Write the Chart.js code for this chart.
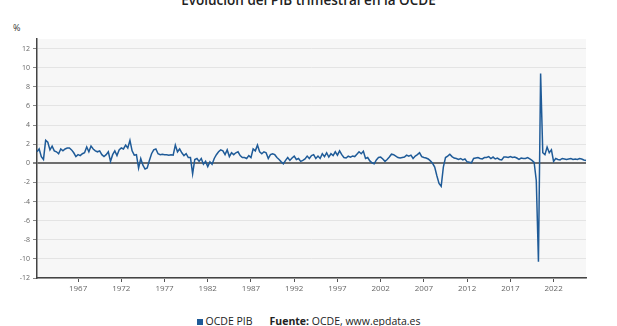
<!DOCTYPE html>
<html>
<head>
<meta charset="utf-8">
<script src="https://cdn.jsdelivr.net/npm/chart.js@4.4.1/dist/chart.umd.min.js"></script>
<style>
  body { margin: 0; background: #fff; width: 617px; height: 326px; overflow: hidden; position: relative; font-family: "Open Sans", sans-serif; }
  #title { position: absolute; left: 0; width: 617px; top: -9px; text-align: center; font-size: 13.5px; font-weight: 600; color: #222; }
  #unit { position: absolute; left: 13px; top: 21px; font-size: 9px; color: #333; }
  #wrap { position: absolute; left: 0; top: 0; width: 617px; height: 300px; }
  #foot { position: absolute; left: 0; width: 617px; top: 314px; text-align: center; font-size: 10.5px; color: #222; white-space: nowrap; }
  #foot .sq { display: inline-block; width: 6px; height: 6px; background: #1f5b98; margin-right: 3px; }
  #foot b { margin-left: 17px; }
</style>
</head>
<body>
<div id="title">Evolución del PIB trimestral en la OCDE</div>
<div id="unit">%</div>
<div id="wrap"><canvas id="chart" width="617" height="300"></canvas></div>
<div id="foot"><span class="sq"></span>OCDE PIB<b>Fuente:</b> OCDE, www.epdata.es</div>
<script>
// serie trimestral, comienza en 1962 T2
const startYear = 1962;
const startQuarter = 2;
const seriesName = 'OCDE PIB';
const pibValues = [
  1.2, 1.5, 0.7, 0.4,
  2.4, 2.2, 1.4, 1.8,
  1.3, 1.2, 1.0, 1.5,
  1.3, 1.5, 1.6, 1.6,
  1.4, 1.1, 0.7, 0.9,
  0.8, 1.0, 1.1, 1.7,
  1.2, 1.8, 1.5, 1.3,
  1.2, 1.3, 0.9, 0.7,
  0.9, 1.2, 0.2, 0.9,
  1.3, 0.8, 1.4, 1.6,
  1.5, 1.9, 1.6, 2.4,
  1.3, 0.85, 0.9, -0.5,
  0.5, -0.2, -0.6, -0.5,
  0.3, 1.0, 1.4, 1.5,
  1.0, 0.9, 0.95, 0.9,
  0.9, 0.85, 0.9, 0.85,
  1.9, 1.2, 1.5, 1.1,
  0.8, 1.0, 0.6, 0.6,
  -1.1, 0.4, 0.5, 0.2,
  0.5, -0.1, 0.2, -0.35,
  0.15, -0.1, 0.5, 0.9,
  1.2, 1.4, 1.3, 0.9,
  1.4, 0.7, 1.1, 0.9,
  1.1, 1.2, 0.8, 0.6,
  0.6, 0.5, 0.8, 0.6,
  1.5, 1.3, 1.9, 1.2,
  1.0, 1.2, 1.1, 0.5,
  0.9, 1.0, 0.9, 0.6,
  0.4, 0.15, -0.05, 0.3,
  0.6, 0.3, 0.55, 0.75,
  0.4, 0.5, 0.2, 0.3,
  0.45, 0.75, 0.5, 0.8,
  0.9, 0.5, 0.75, 0.5,
  1.0, 0.7, 1.1, 0.65,
  1.0, 0.8, 1.2, 0.85,
  1.3, 0.9, 0.6, 0.55,
  0.75, 0.65, 0.75, 0.7,
  0.95, 1.2, 1.0, 1.25,
  0.5, 0.6, 0.25, 0.05,
  -0.05, 0.35, 0.6, 0.65,
  0.45, 0.2, 0.4, 0.65,
  0.95, 0.9, 0.75, 0.6,
  0.55, 0.6, 0.65, 0.85,
  0.75, 0.85, 0.5, 0.75,
  0.9, 1.1, 0.7, 0.6,
  0.55, 0.45, 0.25, 0.0,
  -0.4, -1.3, -2.1, -2.4,
  -0.4, 0.6, 0.75, 0.95,
  0.7, 0.55, 0.5, 0.4,
  0.5, 0.35, 0.45, 0.15,
  0.1, 0.05, 0.5, 0.55,
  0.6, 0.5, 0.45, 0.6,
  0.6, 0.7, 0.5, 0.65,
  0.45, 0.55, 0.4, 0.35,
  0.65, 0.65, 0.6, 0.7,
  0.6, 0.65, 0.55, 0.4,
  0.55, 0.5, 0.5, 0.6,
  0.45, 0.3, 0.1, -1.8,
  -10.3, 9.4, 1.1, 0.9,
  1.7, 1.1, 1.4, 0.2,
  0.5, 0.4, 0.35, 0.5,
  0.45, 0.4, 0.45, 0.5,
  0.4, 0.45, 0.4, 0.5,
  0.45, 0.35, 0.3
];
const tickYears = [1967, 1972, 1977, 1982, 1987, 1992, 1997, 2002, 2007, 2012, 2017, 2022];
const yTicks = [-12, -10, -8, -6, -4, -2, 0, 2, 4, 6, 8, 10, 12];

// etiquetas de trimestre
const labels = pibValues.map((v, i) => {
  const q = startQuarter - 1 + i;
  return (startYear + Math.floor(q / 4)) + ' T' + (q % 4 + 1);
});

const plotBg = {
  id: 'plotBg',
  beforeDraw(chart) {
    const a = chart.chartArea;
    const ctx = chart.ctx;
    ctx.save();
    ctx.fillStyle = '#f7f7f7';
    ctx.fillRect(a.left, a.top, a.right - a.left, a.bottom - a.top);
    ctx.restore();
  }
};

new Chart(document.getElementById('chart'), {
  type: 'line',
  data: {
    labels: labels,
    datasets: [{
      label: seriesName,
      data: pibValues,
      borderColor: '#1f5b98',
      borderWidth: 1.5,
      pointRadius: 0,
      tension: 0,
      fill: false
    }]
  },
  options: {
    responsive: false,
    devicePixelRatio: 1,
    animation: false,
    layout: { padding: { top: 39, right: 31, left: 0, bottom: 0 } },
    plugins: { legend: { display: false }, tooltip: { enabled: false } },
    scales: {
      x: {
        type: 'category',
        afterFit: s => { s.height = 22; },
        border: { color: '#444', width: 1.5 },
        grid: { drawOnChartArea: false, drawTicks: true, tickLength: 4, tickColor: '#555' },
        ticks: {
          autoSkip: false, maxRotation: 0, minRotation: 0,
          color: '#666', font: { size: 8, family: 'Open Sans' }, padding: 2,
          callback: function(val, i) {
            const lab = labels[i];
            const y = parseInt(lab, 10);
            if (lab.endsWith('T1') && tickYears.includes(y)) return String(y);
            return null;
          }
        }
      },
      y: {
        min: -12, max: 13,
        afterFit: s => { s.width = 37; },
        afterBuildTicks: s => { s.ticks = yTicks.map(v => ({ value: v })); },
        border: { color: '#444', width: 1.5 },
        grid: {
          color: c => c.tick && c.tick.value === 0 ? '#6e6e6e' : '#e4e4e4',
          lineWidth: c => c.tick && c.tick.value === 0 ? 2 : 1,
          tickLength: 4, tickColor: '#888'
        },
        ticks: { color: '#666', font: { size: 7, family: 'Open Sans' }, padding: 3 }
      }
    }
  },
  plugins: [plotBg]
});
</script>
</body>
</html>
